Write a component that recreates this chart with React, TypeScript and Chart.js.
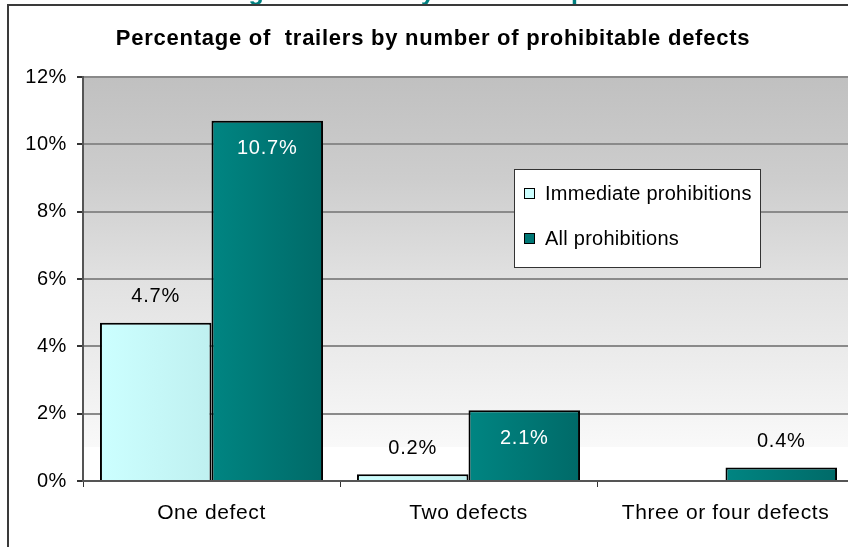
import React, { useEffect, useRef } from "react";
import { Chart, registerables } from "chart.js";

Chart.register(...registerables);

const categories = ["One defect", "Two defects", "Three or four defects"];
const immediateProhibitions: (number | null)[] = [4.7, 0.2, null];
const allProhibitions: (number | null)[] = [10.7, 2.1, 0.4];
const seriesNames = ["Immediate prohibitions", "All prohibitions"];
const chartTitle = "Percentage of  trailers by number of prohibitable defects";
const outerTitle = "Percentage of trailers by number of prohibitable defects";
const yMax = 12;
const yStep = 2;

const FONT = "'Liberation Sans', Arial, sans-serif";
const CAT_PCT = 0.868;

function barGradient(ctx: any, c1: string, c2: string) {
  const chart = ctx.chart;
  const xs = chart.scales?.x;
  if (!xs || ctx.dataIndex === undefined) return c1;
  const n = chart.data.labels.length;
  const catW = xs.width / n;
  const groupW = catW * CAT_PCT;
  const center = xs.getPixelForValue(ctx.dataIndex);
  const left = center - groupW / 2 + ctx.datasetIndex * (groupW / 2);
  const right = left + groupW / 2;
  if (!isFinite(left) || !isFinite(right)) return c1;
  const g = chart.ctx.createLinearGradient(left, 0, right, 0);
  g.addColorStop(0, c1);
  g.addColorStop(1, c2);
  return g;
}

const decorPlugin = {
  id: "decor",
  beforeDraw(chart: any) {
    const { ctx, chartArea: a } = chart;
    ctx.save();
    ctx.fillStyle = "#ffffff";
    ctx.fillRect(0, 0, chart.width, chart.height);
    const g = ctx.createLinearGradient(0, a.top, 0, a.bottom);
    g.addColorStop(0, "#c0c0c0");
    g.addColorStop(0.25, "#cdcdcd");
    g.addColorStop(0.5, "#e1e1e1");
    g.addColorStop(0.75, "#efefef");
    g.addColorStop(0.915, "#f9f9f9");
    g.addColorStop(0.917, "#ffffff");
    g.addColorStop(1, "#ffffff");
    ctx.fillStyle = g;
    ctx.fillRect(a.left, a.top, a.right - a.left, a.bottom - a.top);
    ctx.restore();
    (ctx as any).letterSpacing = "0.6px";
  },
  afterDatasetsDraw(chart: any) {
    const { ctx } = chart;
    ctx.save();
    ctx.letterSpacing = "0.8px";
    ctx.font = `20px ${FONT}`;
    ctx.textAlign = "center";
    ctx.textBaseline = "middle";
    chart.data.datasets.forEach((ds: any, di: number) => {
      const meta = chart.getDatasetMeta(di);
      meta.data.forEach((bar: any, i: number) => {
        const v = ds.data[i];
        if (v === null || v === undefined) return;
        const inside = di === 1 && v >= 1;
        const y = inside ? bar.y + 28 : bar.y - 26;
        ctx.fillStyle = inside ? "#ffffff" : "#000000";
        ctx.fillText(v.toFixed(1) + "%", bar.x, y);
      });
    });
    ctx.restore();
  },
  afterDraw(chart: any) {
    const { ctx } = chart;
    ctx.save();
    // legend
    const lx = 514, ly = 169, lw = 246, lh = 98;
    ctx.fillStyle = "#ffffff";
    ctx.fillRect(lx, ly, lw, lh);
    ctx.strokeStyle = "#333333";
    ctx.lineWidth = 1;
    ctx.strokeRect(lx + 0.5, ly + 0.5, lw, lh);
    const rows = [193, 238];
    ctx.letterSpacing = "0.25px";
    ctx.font = `20px ${FONT}`;
    ctx.textBaseline = "middle";
    ctx.textAlign = "left";
    chart.data.datasets.forEach((ds: any, di: number) => {
      const y = rows[di];
      ctx.fillStyle = ds.legendColor;
      ctx.fillRect(524, y - 5, 11, 11);
      ctx.strokeStyle = "#000000";
      ctx.strokeRect(524.5, y - 4.5, 10, 10);
      ctx.fillStyle = "#000000";
      ctx.fillText(ds.label, 545, y + 1);
    });
    // inner title
    ctx.letterSpacing = "0.75px";
    ctx.font = `bold 22px ${FONT}`;
    ctx.textAlign = "center";
    ctx.textBaseline = "alphabetic";
    ctx.fillStyle = "#000000";
    ctx.fillText(chartTitle, 433, 45);
    // clipped outer title
    ctx.letterSpacing = "0px";
    ctx.font = `bold 25px ${FONT}`;
    ctx.textAlign = "left";
    ctx.fillStyle = "#008080";
    ctx.fillText(outerTitle, 143, 0);
    // frame
    ctx.fillStyle = "#3a3a3a";
    ctx.fillRect(7, 4, 2, chart.height);
    ctx.fillRect(7, 4, chart.width, 2);
    ctx.restore();
  },
};

export default function App() {
  const ref = useRef<HTMLCanvasElement | null>(null);
  useEffect(() => {
    if (!ref.current) return;
    const chart = new Chart(ref.current, {
      type: "bar",
      data: {
        labels: categories,
        datasets: [
          {
            label: seriesNames[0],
            data: immediateProhibitions,
            backgroundColor: (c: any) => barGradient(c, "#ccffff", "#bff0f0"),
            borderColor: "#000000",
            borderWidth: 2,
            legendColor: "#ccffff",
          } as any,
          {
            label: seriesNames[1],
            data: allProhibitions,
            backgroundColor: (c: any) => barGradient(c, "#008582", "#006a68"),
            borderColor: "#000000",
            borderWidth: 2,
            legendColor: "#007775",
          } as any,
        ],
      },
      options: {
        animation: false,
        responsive: false,
        devicePixelRatio: 1,
        layout: { padding: { top: 77, right: 16, left: 0, bottom: 0 } },
        datasets: { bar: { categoryPercentage: CAT_PCT, barPercentage: 1 } },
        plugins: {
          legend: { display: false },
          title: { display: false },
          tooltip: { enabled: false },
        },
        scales: {
          x: {
            afterFit: (s: any) => { s.height = 66; },
            grid: {
              display: true,
              drawOnChartArea: false,
              offset: true,
              drawTicks: true,
              tickLength: 6,
              color: "#333333",
              lineWidth: 1,
            },
            border: { display: true, color: "#555555", width: 2 },
            ticks: {
              color: "#000000",
              padding: 14,
              font: { family: FONT, size: 21 },
              maxRotation: 0,
            },
          },
          y: {
            min: 0,
            max: yMax,
            afterFit: (s: any) => { s.width = 83; },
            grid: {
              color: (c: any) => (c.tick && c.tick.value === 0 ? "rgba(0,0,0,0)" : "#8a8a8a"),
              lineWidth: 2,
              drawTicks: true,
              tickLength: 6,
              tickColor: "#333333",
            },
            border: { display: true, color: "#555555", width: 2 },
            ticks: {
              stepSize: yStep,
              color: "#000000",
              padding: 10,
              font: { family: FONT, size: 20 },
              callback: (v: any) => v + "%",
            },
          },
        },
      } as any,
      plugins: [decorPlugin],
    });
    return () => chart.destroy();
  }, []);
  return (
    <div
      style={{
        position: "fixed",
        left: 0,
        top: 0,
        width: 848,
        height: 547,
        overflow: "hidden",
        background: "#fff",
      }}
    >
      <canvas ref={ref} width={870} height={547} style={{ display: "block", width: 870, height: 547 }} />
    </div>
  );
}
